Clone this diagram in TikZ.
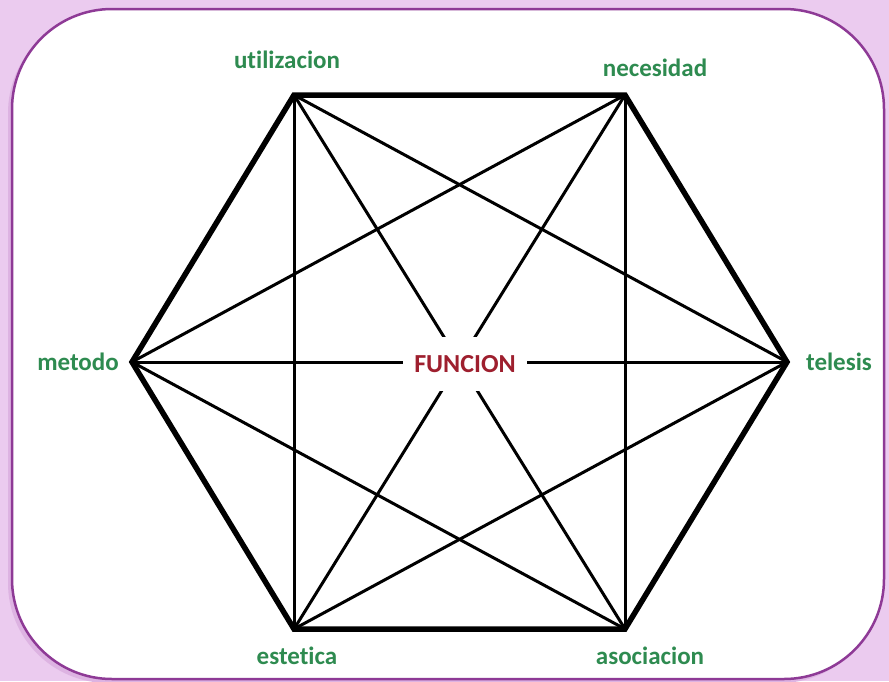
\documentclass[tikz,border=0pt]{standalone}
\usepackage{fontspec}
\setmainfont[Ligatures=NoCommon]{Carlito}
\definecolor{bgpink}{HTML}{EBCBEF}
\definecolor{shadowpink}{HTML}{DDB3E2}
\definecolor{framepurple}{HTML}{8E3A96}
\definecolor{lblgreen}{HTML}{2E8B50}
\definecolor{funcred}{HTML}{9E1F2E}
\begin{document}
\begin{tikzpicture}[x=1pt,y=-1pt,
  lbl/.style={text=lblgreen,font=\fontsize{25}{28}\selectfont\bfseries,inner sep=0pt},
  edge/.style={line width=5.5pt,line join=miter,line cap=round},
  diag/.style={line width=3pt,line cap=round},
  centre/.style={fill=white,text=funcred,font=\fontsize{26}{30}\selectfont\bfseries,minimum width=124pt,minimum height=54pt,inner sep=0pt}]
\useasboundingbox (0,0) rectangle (889,681);
\fill[bgpink] (0,0) rectangle (889,681);
\fill[shadowpink,rounded corners=100pt] (8,13) rectangle (880,683);
\draw[framepurple,fill=white,line width=2.5pt,rounded corners=100pt] (12,9) rectangle (884,679);
% vertices
\coordinate (u) at (294,95);
\coordinate (n) at (625,95);
\coordinate (t) at (787,362);
\coordinate (a) at (625,629);
\coordinate (e) at (294,629);
\coordinate (m) at (132,362);
% inner lines
\draw[diag] (u) -- (e);
\draw[diag] (n) -- (a);
\draw[diag] (u) -- (t);
\draw[diag] (u) -- (a);
\draw[diag] (n) -- (m);
\draw[diag] (n) -- (e);
\draw[diag] (m) -- (t);
\draw[diag] (m) -- (a);
\draw[diag] (e) -- (t);
% hexagon
\draw[edge] (u) -- (n) -- (t) -- (a) -- (e) -- (m) -- cycle;
% centre label
\node[centre] (f) at (465,364) {FUNCION};
% labels
\node[lbl] (lu) at (287,60) {utilizacion};
\node[lbl] (ln) at (655,68) {necesidad};
\node[lbl] (lm) at (78,362) {metodo};
\node[lbl] (lt) at (839,362) {telesis};
\node[lbl] (le) at (297,656) {estetica};
\node[lbl] (la) at (650,656) {asociacion};
\end{tikzpicture}
\end{document}
